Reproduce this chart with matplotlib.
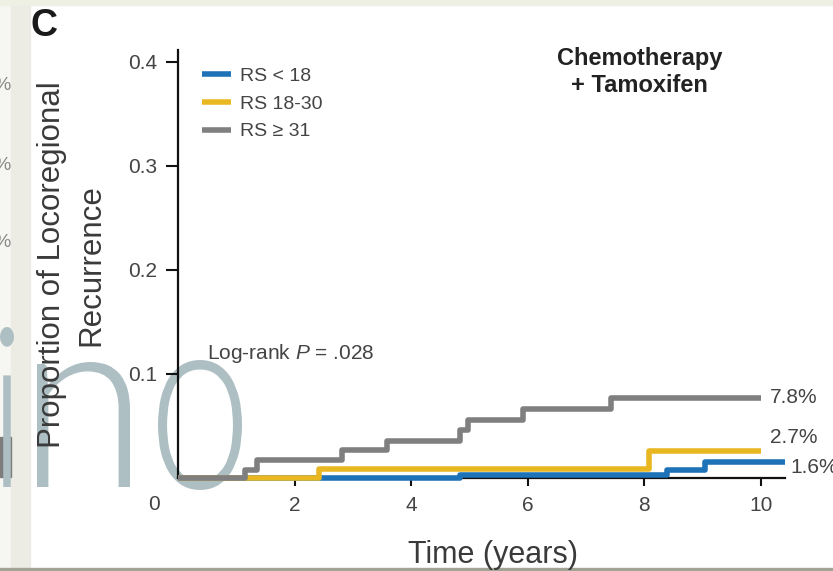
import matplotlib

matplotlib.use("Agg")
import matplotlib.pyplot as plt
from matplotlib import font_manager
from matplotlib.font_manager import FontProperties
from matplotlib.patches import PathPatch, Rectangle
from matplotlib.textpath import TextPath
from matplotlib.transforms import Affine2D, IdentityTransform

plt.rcParams["font.family"] = ["Liberation Sans", "DejaVu Sans"]
plt.rcParams["mathtext.fontset"] = "custom"
plt.rcParams["mathtext.rm"] = "Liberation Sans"
plt.rcParams["mathtext.it"] = "Liberation Sans:italic"

# cumulative locoregional recurrence
time_low = [0, 4.84, 8.38, 9.04, 10.41]
rec_low = [0, 0.003, 0.008, 0.0157, 0.0157]
time_mid = [0, 2.41, 8.07, 10.0]
rec_mid = [0, 0.009, 0.026, 0.026]
time_high = [0, 1.15, 1.36, 2.81, 3.58, 4.84, 4.98, 5.91, 7.42, 10.0]
rec_high = [0, 0.008, 0.017, 0.027, 0.036, 0.046, 0.056, 0.066, 0.077, 0.077]

series_labels = ["RS < 18", "RS 18-30", "RS \u2265 31"]
end_labels = ["1.6%", "2.7%", "7.8%"]
x_ticks = [2, 4, 6, 8, 10]
y_ticks = [0.1, 0.2, 0.3, 0.4]

BLUE = "#1d72b8"
GOLD = "#e8b722"
GREY = "#7f7f7f"
TXT = "#444444"

W, H = 833, 571
fig = plt.figure(figsize=(W / 100, H / 100), dpi=100)
fig.patch.set_facecolor("white")


def fx(px):
    return px / W


def fy(py):
    return 1 - py / H


def light_font():
    # Lato Light for the watermark if it is there, otherwise a medium/regular cut
    files = {f.fname.split("/")[-1].lower(): f.fname for f in font_manager.fontManager.ttflist}
    for want in ["lato-light.ttf", "lato-light.otf", "lato-medium.ttf", "lato-regular.ttf"]:
        if want in files:
            return FontProperties(fname=files[want])
    return FontProperties(family=["Lato", "DejaVu Sans"])


# scan artefacts around the panel
fig.patches.append(Rectangle((0, 0), fx(11), 1, transform=fig.transFigure, color="#f6f6f2", zorder=-3))
fig.patches.append(Rectangle((fx(11), 0), fx(19), 1, transform=fig.transFigure, color="#ececE5", zorder=-3))
fig.patches.append(Rectangle((0, fy(5)), 1, fy(0) - fy(5), transform=fig.transFigure, color="#eef0e3", zorder=-3))
fig.patches.append(Rectangle((0, 0), 1, fy(568), transform=fig.transFigure, color="#a3a395", zorder=-3))
fig.patches.append(Rectangle((0, fy(477)), fx(11), fy(437) - fy(477), transform=fig.transFigure,
                             color="#7c7c7c", zorder=-2))
for py in [85, 166, 242]:
    fig.text(fx(-7), fy(py), "%", fontsize=14, color="#8a8a8a", va="center", ha="left", zorder=-2)

# watermark letters, each squeezed into the box it covers in the scan (x0, x1, top, bottom in px)
wm_font = light_font()
wm_boxes = [("i", 0, 14, 327, 487), ("n", 37, 130, 362, 487), ("o", 158, 242, 360, 490)]
for ch, x0, x1, top, bot in wm_boxes:
    tp = TextPath((0, 0), ch, size=100, prop=wm_font)
    bb = tp.get_extents()
    tr = (Affine2D().translate(-bb.x0, -bb.y0)
          .scale((x1 - x0) / bb.width, (bot - top) / bb.height)
          .translate(x0, H - bot))
    fig.add_artist(PathPatch(tr.transform_path(tp), transform=IdentityTransform(),
                             facecolor="#aebfc4", edgecolor="none", zorder=-1))

ax = fig.add_axes([0.1857, 0.1447, 0.7839, 0.7832])
ax.patch.set_visible(False)
ax.set_xlim(-0.4, 10.8)
ax.set_ylim(-0.01, 0.42)

ax.step(time_low, rec_low, where="post", color=BLUE, lw=4, label=series_labels[0], zorder=3,
        solid_capstyle="butt")
ax.step(time_mid, rec_mid, where="post", color=GOLD, lw=4, label=series_labels[1], zorder=4,
        solid_capstyle="butt")
ax.step(time_high, rec_high, where="post", color=GREY, lw=4, label=series_labels[2], zorder=5,
        solid_capstyle="butt")

for sp in ["top", "right"]:
    ax.spines[sp].set_visible(False)
ax.spines["bottom"].set_position(("data", 0))
ax.spines["bottom"].set_bounds(0, 10.41)
ax.spines["left"].set_position(("data", 0))
ax.spines["left"].set_bounds(0, 0.4115)
for sp in ["bottom", "left"]:
    ax.spines[sp].set_linewidth(1.6)
    ax.spines[sp].set_color("#111111")
    ax.spines[sp].set_zorder(2)

ax.set_xticks(x_ticks)
ax.set_yticks(y_ticks)
ax.set_yticklabels([f"{v:.1f}" for v in y_ticks])
ax.tick_params(axis="x", direction="out", length=6, width=1.5, pad=7, labelsize=15, labelcolor=TXT,
               color="#111111")
ax.tick_params(axis="y", direction="out", length=9, width=1.5, pad=6, labelsize=15, labelcolor=TXT,
               color="#111111")
ax.annotate("0", xy=(0, 0), xytext=(-17, -19), textcoords="offset points", ha="center", va="center",
            fontsize=15, color=TXT)

leg = ax.legend(loc="upper left", bbox_to_anchor=(fx(202), fy(67)), bbox_transform=fig.transFigure,
                frameon=False, fontsize=14, handlelength=1.5, handletextpad=0.45, labelspacing=0.53,
                borderpad=0, borderaxespad=0)
for t in leg.get_texts():
    t.set_color(TXT)
for h in leg.get_lines():
    h.set_linewidth(4)

ax.text(7.92, 0.414, "Chemotherapy\n+ Tamoxifen", ha="center", va="top", fontsize=17,
        fontweight="bold", color="#222222")
ax.text(0.50, 0.120, "Log-rank $P$ = .028", ha="left", va="center", fontsize=15, color=TXT)

# end-of-follow-up labels; the 1.6% one runs off the right edge as in the scan
ax.text(10.5, 0.0096, end_labels[0], ha="left", va="center", fontsize=15, color=TXT, clip_on=False)
ax.text(10.15, 0.039, end_labels[1], ha="left", va="center", fontsize=15, color=TXT)
ax.text(10.15, 0.077, end_labels[2], ha="left", va="center", fontsize=15, color=TXT)

fig.text(fx(30), fy(8), "C", fontsize=27, fontweight="bold", color="#1a1a1a", ha="left", va="top")
fig.text(fx(72), fy(265), "Proportion of Locoregional\nRecurrence", rotation=90, ha="center",
         va="center", multialignment="center", linespacing=1.4, fontsize=22.5, color="#3a3a3a")
fig.text(fx(493), fy(555), "Time (years)", ha="center", va="center", fontsize=22, color="#3a3a3a")

fig.savefig("out.png", dpi=100)
